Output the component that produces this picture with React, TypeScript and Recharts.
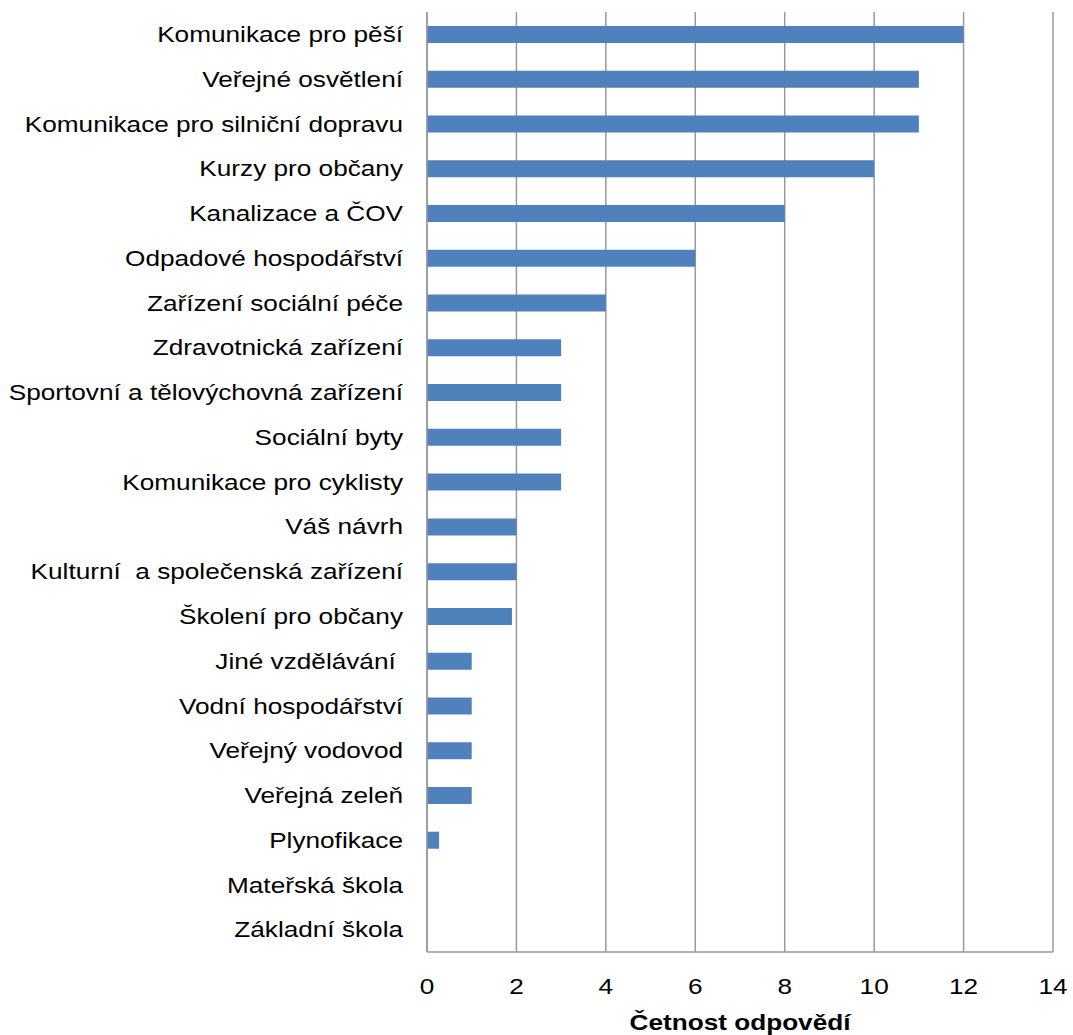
import { BarChart, Bar, XAxis, YAxis, CartesianGrid } from 'recharts'

const categories = [
  'Komunikace pro pěší',
  'Veřejné osvětlení',
  'Komunikace pro silniční dopravu',
  'Kurzy pro občany',
  'Kanalizace a ČOV',
  'Odpadové hospodářství',
  'Zařízení sociální péče',
  'Zdravotnická zařízení',
  'Sportovní a tělovýchovná zařízení',
  'Sociální byty',
  'Komunikace pro cyklisty',
  'Váš návrh',
  'Kulturní  a společenská zařízení',
  'Školení pro občany',
  'Jiné vzdělávání ',
  'Vodní hospodářství',
  'Veřejný vodovod',
  'Veřejná zeleň',
  'Plynofikace',
  'Mateřská škola',
  'Základní škola',
]

const counts = [12, 11, 11, 10, 8, 6, 4, 3, 3, 3, 3, 2, 2, 1.9, 1, 1, 1, 1, 0.27, 0, 0]

const xTicks = [0, 2, 4, 6, 8, 10, 12, 14]

const axisTitle = 'Četnost odpovědí'

const FONT = '"Liberation Sans", Arial, sans-serif'
const STRETCH = 1.19

const data = categories.map((name, i) => ({ name, value: counts[i] }))

function CategoryTick(props: any) {
  const { x, y, payload } = props
  return (
    <text
      transform={`translate(${x},${y}) scale(${STRETCH},1)`}
      dy="0.35em"
      textAnchor="end"
      fill="#000"
      fontSize={22}
      fontFamily={FONT}
      style={{ whiteSpace: 'pre' }}
    >
      {payload.value}
    </text>
  )
}

function ValueTick(props: any) {
  const { x, y, payload } = props
  return (
    <text
      transform={`translate(${x},${y}) scale(${STRETCH},1)`}
      dy="0.71em"
      textAnchor="middle"
      fill="#000"
      fontSize={22}
      fontFamily={FONT}
    >
      {payload.value}
    </text>
  )
}

function AxisTitle(props: any) {
  const { viewBox } = props
  const cx = viewBox.x + viewBox.width / 2
  return (
    <text
      transform={`translate(${cx},${viewBox.y + 78}) scale(${STRETCH},1)`}
      textAnchor="middle"
      fill="#000"
      fontSize={22}
      fontWeight="bold"
      fontFamily={FONT}
    >
      {axisTitle}
    </text>
  )
}

export default function App() {
  return (
    <div style={{ position: 'absolute', left: 0, top: 0, background: '#fff' }}>
      <BarChart
        width={1073}
        height={1035}
        data={data}
        layout="vertical"
        margin={{ top: 12, right: 20, bottom: 23, left: 0 }}
      >
        <CartesianGrid horizontal={false} stroke="#999" strokeWidth={1.5} />
        <XAxis
          type="number"
          domain={[0, 14]}
          ticks={xTicks}
          tickLine={false}
          axisLine={{ stroke: '#999', strokeWidth: 1.5 }}
          tickMargin={20}
          height={60}
          tick={<ValueTick />}
          label={<AxisTitle />}
        />
        <YAxis
          type="category"
          dataKey="name"
          width={427}
          tickLine={false}
          axisLine={{ stroke: '#999', strokeWidth: 1.5 }}
          tickMargin={18}
          interval={0}
          tick={<CategoryTick />}
        />
        <Bar dataKey="value" fill="#4F81BD" barSize={17} isAnimationActive={false} />
      </BarChart>
    </div>
  )
}
